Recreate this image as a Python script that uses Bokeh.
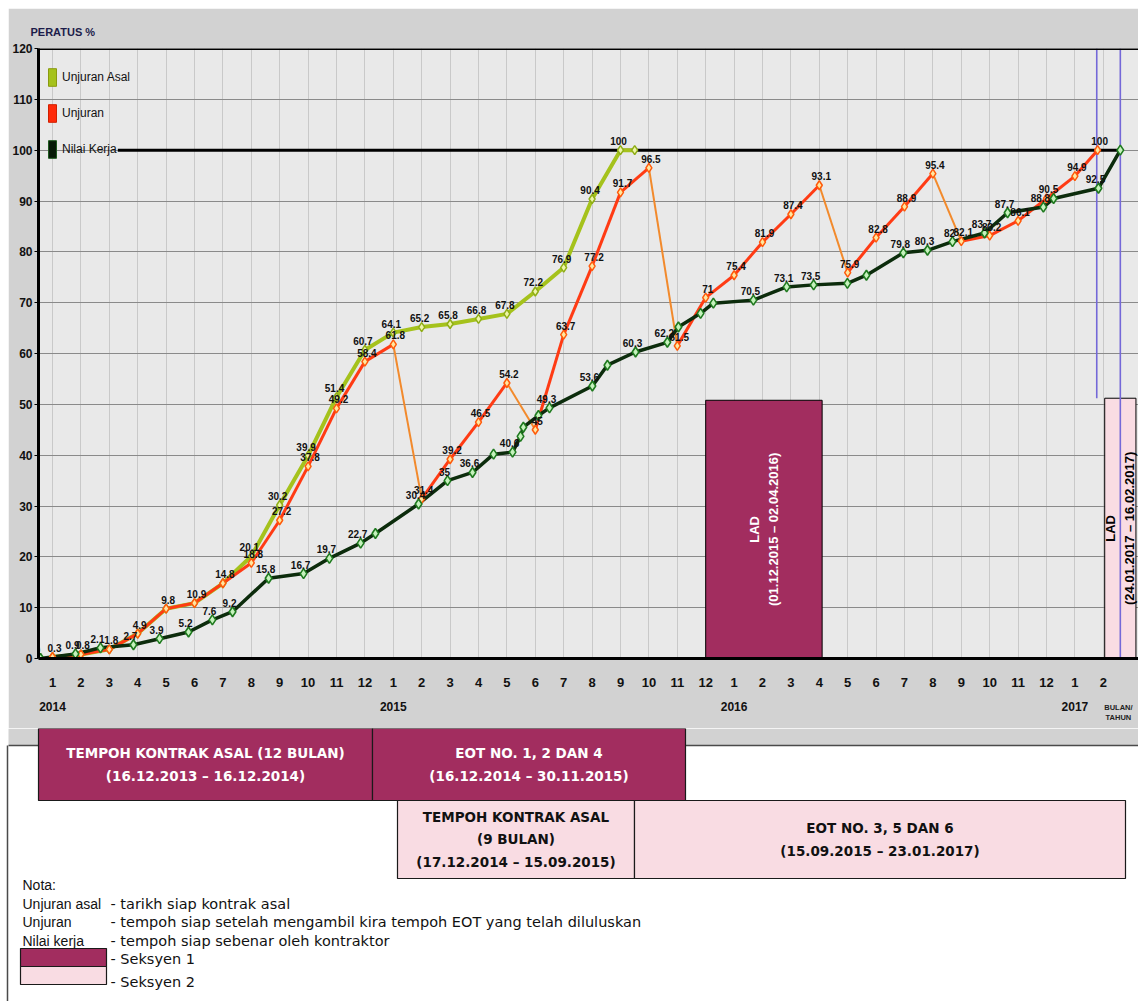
import math
from bokeh.plotting import figure
from bokeh.models import (Range1d, LinearAxis, FixedTicker, Span, Legend, LegendItem, Spacer)
from bokeh.layouts import column, row
from bokeh.core.properties import value
from bokeh.embed import file_html
from bokeh.resources import INLINE

# ---------------- data ----------------
# x positions in months: 1 = Jan 2014 ... 38 = Feb 2017
month_ticks = list(range(1, 39))
month_labels = [str((t - 1) % 12 + 1) for t in month_ticks]
year_ticks = [1, 13, 25, 37]
year_labels = ["2014", "2015", "2016", "2017"]
unit_tick = [38.95]
unit_label = ["BULAN/\nTAHUN"]
y_ticks = list(range(0, 121, 10))

# Unjuran Asal
asal_x = [1, 2, 3, 4, 5, 6, 7, 8, 9, 10, 11, 12, 13, 14, 15, 16, 17, 18, 19, 20, 21, 21.5]
asal_y = [0.3, 0.8, 1.8, 4.9, 9.8, 10.9, 14.8, 20.1, 30.2, 39.9, 51.4, 60.7, 64.1,
          65.2, 65.8, 66.8, 67.8, 72.2, 76.9, 90.4, 100, 100]
asal_lbl = ["", "", "", "", "", "", "", "20.1", "30.2", "39.9", "51.4", "60.7", "64.1",
            "65.2", "65.8", "66.8", "67.8", "72.2", "76.9", "90.4", "100", ""]

# Unjuran
unj_x = list(range(1, 38)) + [37.8]
unj_y = [0.3, 0.8, 1.8, 4.9, 9.8, 10.9, 14.8, 18.8, 27.2, 37.8, 49.2, 58.4, 61.8,
         31.4, 39.2, 46.5, 54.2, 45.0, 63.7, 77.2, 91.7, 96.5, 61.5, 71.0,
         75.4, 81.9, 87.4, 93.1, 75.9, 82.8, 88.9, 95.4, 82.1, 83.2, 86.1, 90.5, 94.9, 100]
unj_lbl = ["0.3", "0.8", "1.8", "4.9", "9.8", "10.9", "14.8", "18.8", "27.2", "37.8", "49.2", "58.4", "61.8",
           "31.4", "39.2", "46.5", "54.2", "45", "63.7", "77.2", "91.7", "96.5", "61.5", "71",
           "75.4", "81.9", "87.4", "93.1", "75.9", "82.8", "88.9", "95.4", "82.1", "83.2", "86.1", "90.5", "94.9", "100"]

# Nilai Kerja
nk_x = [0.58, 1.81, 2.69, 3.85, 4.77, 5.79, 6.63, 7.34, 8.61, 9.84, 10.75, 11.85, 12.37,
        13.89, 14.91, 15.79, 16.53, 17.2, 17.48, 17.58, 18.11, 18.5, 20.01, 20.54, 21.53,
        22.65, 23.04, 23.82, 24.27, 25.68, 26.85, 27.8, 28.99, 29.66, 30.96, 31.81, 32.69,
        33.82, 34.63, 35.89, 36.25, 37.83, 38.6]
nk_y = [0, 0.9, 2.1, 2.7, 3.9, 5.2, 7.6, 9.2, 15.8, 16.7, 19.7, 22.7, 24.6,
        30.4, 35.0, 36.6, 40.2, 40.6, 43.7, 45.5, 47.8, 49.3, 53.6, 57.7, 60.3,
        62.2, 65.2, 67.9, 69.9, 70.5, 73.1, 73.5, 73.8, 75.4, 79.8, 80.3, 82.0,
        83.7, 87.7, 88.8, 90.5, 92.5, 100]
nk_lbl = ["0", "0.9", "2.1", "2.7", "3.9", "5.2", "7.6", "9.2", "15.8", "16.7", "19.7", "22.7", "",
          "30.4", "35", "36.6", "", "40.6", "", "", "", "49.3", "53.6", "", "60.3",
          "62.2", "", "", "", "70.5", "73.1", "73.5", "", "", "79.8", "80.3", "82",
          "83.7", "87.7", "88.8", "", "92.5", ""]

# LAD periods (months) and box heights (%)
lad_left = [24.0, 38.05]
lad_right = [28.1, 39.15]
lad_top = [50.8, 51.2]
lad_text = ["LAD\n(01.12.2015 \u2013 02.04.2016)", "LAD\n(24.01.2017 \u2013 16.02.2017)"]
lad2_marks = [37.77, 38.6]   # 24.01.2017 and 16.02.2017

assert len(asal_x) == len(asal_y) == len(asal_lbl)
assert len(unj_x) == len(unj_y) == len(unj_lbl)
assert len(nk_x) == len(nk_y) == len(nk_lbl)

# ---------------- styles ----------------
NARROW = "Liberation Sans Narrow, Liberation Sans, sans-serif"
SANS = "Liberation Sans, Arial, sans-serif"
WIDE = "DejaVu Sans, Liberation Sans, sans-serif"
DARK = "#a22d5f"
LIGHT = "#f9dce3"
OLIVE = "#a5c21c"
RED_UP = "#ff3b14"
RED_DN = "#f28a2c"
GREEN = "#0c2c0c"
BORDER = "#d2d2d2"

# ---------------- top chart ----------------
p = figure(width=1130, height=720, x_range=Range1d(0.507, 39.24), y_range=Range1d(0, 120),
           output_backend="svg", toolbar_location=None,
           min_border_left=30, min_border_right=0, min_border_top=40, min_border_bottom=70,
           background_fill_color="#e9e9e9", border_fill_color=BORDER)
p.outline_line_color = None
p.title.text = "PERATUS %"
p.title.align = "left"
p.title.offset = -8
p.title.text_font = SANS
p.title.text_font_size = "11px"
p.title.text_color = "#1c1c4a"
p.title.standoff = 22

p.xaxis.ticker = FixedTicker(ticks=month_ticks)
p.xaxis.major_label_overrides = {t: l for t, l in zip(month_ticks, month_labels)}
p.xaxis.axis_line_color = "black"
p.xaxis.axis_line_width = 3
p.xaxis.major_tick_line_color = None
p.xaxis.major_tick_out = 0
p.xaxis.major_tick_in = 0
p.xaxis.minor_tick_line_color = None
p.xaxis.major_label_standoff = 19
p.xaxis.major_label_text_font = NARROW
p.xaxis.major_label_text_font_style = "bold"
p.xaxis.major_label_text_font_size = "13px"
p.xaxis.major_label_text_color = "#111111"

yr = LinearAxis(ticker=FixedTicker(ticks=year_ticks),
                major_label_overrides={t: l for t, l in zip(year_ticks, year_labels)})
yr.axis_line_color = None
yr.major_tick_line_color = None
yr.major_tick_out = 0
yr.major_tick_in = 0
yr.minor_tick_line_color = None
yr.major_label_standoff = 12
yr.major_label_text_font = NARROW
yr.major_label_text_font_style = "bold"
yr.major_label_text_font_size = "12px"
yr.major_label_text_color = "#111111"
p.add_layout(yr, "below")

ua = LinearAxis(ticker=FixedTicker(ticks=unit_tick),
                major_label_overrides={t: l for t, l in zip(unit_tick, unit_label)})
ua.axis_line_color = None
ua.major_tick_line_color = None
ua.major_tick_out = 0
ua.major_tick_in = 0
ua.minor_tick_line_color = None
ua.major_label_standoff = -11
ua.major_label_text_font = SANS
ua.major_label_text_font_style = "bold"
ua.major_label_text_font_size = "7.5px"
ua.major_label_text_color = "#222222"
p.add_layout(ua, "below")

p.yaxis.ticker = FixedTicker(ticks=y_ticks)
p.yaxis.axis_line_color = "black"
p.yaxis.axis_line_width = 3
p.yaxis.major_tick_out = 4
p.yaxis.major_tick_in = 0
p.yaxis.major_tick_line_color = "black"
p.yaxis.minor_tick_line_color = None
p.yaxis.major_label_standoff = 2
p.yaxis.major_label_text_font = NARROW
p.yaxis.major_label_text_font_style = "bold"
p.yaxis.major_label_text_font_size = "12px"
p.yaxis.major_label_text_color = "#111111"

p.xgrid.ticker = FixedTicker(ticks=month_ticks)
p.xgrid.grid_line_color = "#c9c9c9"
p.xgrid.grid_line_width = 1
p.ygrid.ticker = FixedTicker(ticks=y_ticks)
p.ygrid.grid_line_color = "#8a8a8a"
p.ygrid.grid_line_width = 1.2

p.add_layout(Span(location=120, dimension="width", line_color="black", line_width=3))

# LAD boxes
p.quad(left=lad_left, right=lad_right, bottom=[0, 0], top=lad_top,
       fill_color=[DARK, LIGHT], line_color="black", line_width=1)
p.text(x=[(a + b) / 2 for a, b in zip(lad_left, lad_right)],
       y=[t / 2 for t in lad_top], text=lad_text, angle=math.pi / 2,
       text_align="center", text_baseline="middle",
       text_color=["white", "black"], text_font=value(SANS), text_font_style="bold",
       text_font_size="13px", text_line_height=1.25)

# LAD2 marker lines
p.segment(x0=lad2_marks, x1=lad2_marks, y0=[lad_top[1], 0], y1=[120, 120],
          line_color="#7468d8", line_width=1.6)

# 100% line
p.segment(x0=[3.3], x1=[38.6], y0=[100], y1=[100], line_color="black", line_width=3)

# Unjuran asal
p.line(asal_x, asal_y, line_color=OLIVE, line_width=4)

# Unjuran (segments coloured by direction)
seg_col = [RED_UP if b >= a else RED_DN for a, b in zip(unj_y[:-1], unj_y[1:])]
seg_w = [3 if b >= a else 2 for a, b in zip(unj_y[:-1], unj_y[1:])]
p.segment(x0=unj_x[:-1], y0=unj_y[:-1], x1=unj_x[1:], y1=unj_y[1:],
          line_color=seg_col, line_width=seg_w)

# Nilai kerja
p.line(nk_x, nk_y, line_color=GREEN, line_width=3.5)

p.scatter(asal_x, asal_y, marker="diamond", size=9, fill_color="#eef5a8", line_color="#8fae16", line_width=1.5)
p.scatter(unj_x, unj_y, marker="diamond", size=9, fill_color="#ffe7a0", line_color="#ff5a0a", line_width=1.5)
p.scatter(nk_x, nk_y, marker="diamond", size=10, fill_color="#c6f2bd", line_color="#1f7a1f", line_width=1.6)

lbl_kw = dict(text_align="center", text_baseline="bottom", y_offset=-5,
              text_font=value(NARROW), text_font_style="bold", text_font_size="10px",
              text_color="#111111")
p.text(asal_x, asal_y, text=asal_lbl, x_offset=-2, **lbl_kw)
p.text(unj_x, unj_y, text=unj_lbl, x_offset=2, **lbl_kw)
p.text(nk_x, nk_y, text=nk_lbl, x_offset=-3, **lbl_kw)

# legend with square swatches (swatch renderers sit outside the visible range)
r_a = p.rect(x=[-50], y=[-50], width=1, height=1, fill_color=OLIVE, line_color="#8a9a10")
r_u = p.rect(x=[-50], y=[-50], width=1, height=1, fill_color="#ff2a0a", line_color="#d02000")
r_n = p.rect(x=[-50], y=[-50], width=1, height=1, fill_color="#071a07", line_color="#1f5a1f")
leg = Legend(items=[LegendItem(label="Unjuran Asal", renderers=[r_a]),
                    LegendItem(label="Unjuran", renderers=[r_u]),
                    LegendItem(label="Nilai Kerja", renderers=[r_n])],
             location=(9, 498), margin=0, padding=0, spacing=14,
             glyph_width=10, glyph_height=22, label_height=22, label_standoff=5,
             label_text_font=NARROW, label_text_font_size="12px",
             label_text_color="#111111",
             background_fill_alpha=0, border_line_color=None)
p.add_layout(leg, "center")

# ---------------- bottom panel ----------------
q = figure(width=1138, height=273, x_range=Range1d(0, 1138), y_range=Range1d(1001, 728),
           output_backend="svg", toolbar_location=None, min_border=0,
           background_fill_color="white", border_fill_color="white")
q.axis.visible = False
q.grid.visible = False
q.outline_line_color = None

# continuation of grey chart frame
q.quad(left=[8], right=[1138], top=[728], bottom=[745], fill_color=BORDER, line_color=None)
q.segment(x0=[8, 7], x1=[1138, 7], y0=[745, 745], y1=[745, 1001], line_color="#4a4a4a", line_width=1.5)

box_l = [38, 372, 397, 634]
box_r = [372, 685, 634, 1125]
box_t = [728, 728, 800, 800]
box_b = [800, 800, 878, 878]
q.quad(left=box_l, right=box_r, top=box_t, bottom=box_b,
       fill_color=[DARK, DARK, LIGHT, LIGHT], line_color="#1a1a1a", line_width=1.2)

box_txt = ["TEMPOH KONTRAK ASAL (12 BULAN)\n(16.12.2013 \u2013 16.12.2014)",
           "EOT NO. 1, 2 DAN 4\n(16.12.2014 \u2013 30.11.2015)",
           "TEMPOH KONTRAK ASAL\n(9 BULAN)\n(17.12.2014 \u2013 15.09.2015)",
           "EOT NO. 3, 5 DAN 6\n(15.09.2015 \u2013 23.01.2017)"]
q.text(x=[(a + b) / 2 for a, b in zip(box_l, box_r)],
       y=[(a + b) / 2 for a, b in zip(box_t, box_b)], text=box_txt,
       text_align="center", text_baseline="middle",
       text_color=["white", "white", "#111111", "#111111"],
       text_font=value(WIDE), text_font_style="bold", text_font_size="13.5px",
       text_line_height=1.4)

# notes
q.text(x=[22, 22, 22, 22], y=[884, 903, 921, 940],
       text=["Nota:", "Unjuran asal", "Unjuran", "Nilai kerja"],
       text_align="left", text_baseline="middle", text_color="#111111",
       text_font=value(SANS), text_font_size="14px")
q.segment(x0=[22], x1=[93], y0=[949], y1=[949], line_color="#111111", line_width=1)
q.text(x=[110, 110, 110, 110, 110], y=[903, 921, 940, 958, 981],
       text=["- tarikh siap kontrak asal",
             "- tempoh siap setelah mengambil kira tempoh EOT yang telah diluluskan",
             "- tempoh siap sebenar oleh kontraktor",
             "- Seksyen 1", "- Seksyen 2"],
       text_align="left", text_baseline="middle", text_color="#111111",
       text_font=value(WIDE), text_font_size="14.5px")
q.quad(left=[20, 20], right=[106, 106], top=[948, 966], bottom=[966, 984],
       fill_color=[DARK, LIGHT], line_color="#1a1a1a", line_width=1.2)

layout = column(Spacer(height=8), row(Spacer(width=8), p), q)
open("out.html", "w").write(file_html(layout, INLINE))
